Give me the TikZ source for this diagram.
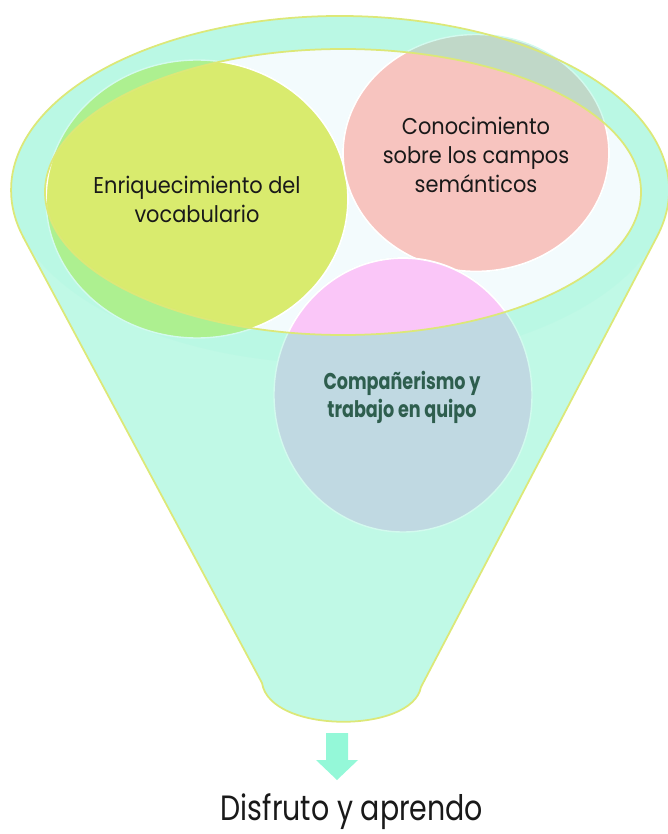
\documentclass[tikz,border=0pt]{standalone}
\usepackage{fontspec}
\setmainfont{Poppins}[FakeStretch=0.915]
\newfontfamily\resultfont{Poppins}[FakeStretch=0.81]
\newfontfamily\teamfont{Poppins}[FakeStretch=0.77]
\definecolor{mint}{HTML}{C0F9E6}
\definecolor{mintrim}{HTML}{BAF8E4}
\definecolor{mintedge}{HTML}{D2FAEE}
\definecolor{pale}{HTML}{F3FBFD}
\definecolor{rimline}{HTML}{DCE878}
\definecolor{lime}{HTML}{D9EB6E}
\definecolor{limedim}{HTML}{ADF090}
\definecolor{rose}{HTML}{F7C4BF}
\definecolor{rosedim}{HTML}{C0D8C8}
\definecolor{orchid}{HTML}{FAC6F8}
\definecolor{orchiddim}{HTML}{C0D9E2}
\definecolor{arrowmint}{HTML}{94F8D8}
\definecolor{deepgreen}{HTML}{2E5E4E}
\tikzset{
  bubble/.style={draw=white, line width=1pt},
  dimbubble/.style={draw=mintedge, line width=0.8pt},
  label/.style={align=center, font=\fontsize{13}{16.5}\selectfont, text=black!90},
}
\begin{document}
\begin{tikzpicture}[x=0.02cm, y=-0.02cm]
	\useasboundingbox (0,0) rectangle (667,834);

	% funnel
	\coordinate (lt) at (23.4,237.4);
	\coordinate (lb) at (262,683);
	\coordinate (rb) at (421,687);
	\coordinate (rt) at (656.9,236.8);
	\fill[mint] (lt) -- (lb) .. controls (270,734) and (412,734) .. (rb) -- (rt)
		arc[start angle=15.6, end angle=-195.8, x radius=329, y radius=174] -- cycle;
	\fill[mintrim] (340,190) ellipse [x radius=329, y radius=174];
	\fill[pale] (343,192) ellipse [x radius=298, y radius=143];

	% circles, dimmed by the funnel
	\coordinate (enr) at (197,199);
	\coordinate (con) at (476,153);
	\coordinate (com) at (403,395);
	\filldraw[dimbubble, fill=limedim] (enr) ellipse [x radius=151, y radius=139];
	\filldraw[dimbubble, fill=rosedim] (con) ellipse [x radius=133, y radius=118.5];
	\filldraw[dimbubble, fill=orchiddim] (com) ellipse [x radius=129, y radius=137];
	\begin{scope}
		\clip (343,192) ellipse [x radius=298, y radius=143];
		\filldraw[bubble, fill=lime] (enr) ellipse [x radius=151, y radius=139];
		\filldraw[bubble, fill=rose] (con) ellipse [x radius=133, y radius=118.5];
		\filldraw[bubble, fill=orchid] (com) ellipse [x radius=129, y radius=137];
	\end{scope}

	% outlines
	\draw[rimline, line width=1pt] (343,192) ellipse [x radius=298, y radius=143];
	\draw[rimline, line width=1pt] (lt) -- (lb) .. controls (270,734) and (412,734) .. (rb) -- (rt)
		arc[start angle=15.6, end angle=-195.8, x radius=329, y radius=174] -- cycle;

	% labels
	\node[label] (enrtext) at (197,199) {Enriquecimiento del\\vocabulario};
	\node[label] (context) at (476,155) {Conocimiento\\sobre los campos\\semánticos};
	\node[label, text=deepgreen, font=\teamfont\bfseries\fontsize{13}{16}\selectfont] (comtext) at (402,397) {Compañerismo y\\trabajo en quipo};

	% arrow and result
	\fill[arrowmint] (326,733) -- (348,733) -- (348,760) -- (358,760) -- (337,780)
		-- (316,760) -- (326,760) -- cycle;
	\node[font=\resultfont\fontsize{20}{24}\selectfont, text=black!90] (result) at (352,812) {Disfruto y aprendo};
\end{tikzpicture}
\end{document}
